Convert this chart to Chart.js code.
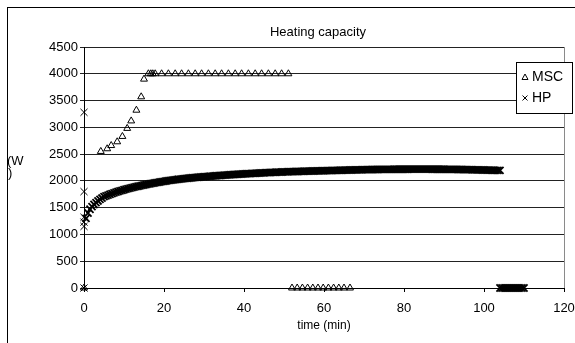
<!DOCTYPE html>
<html><head><meta charset="utf-8">
<script src="https://cdn.jsdelivr.net/npm/chart.js@4/dist/chart.umd.min.js"></script>
<style>html,body{margin:0;padding:0;background:#fff}canvas{display:block}</style>
</head><body>
<canvas id="c" width="575" height="343"></canvas>
<script>
const chartTitle = "Heating capacity";
const xTitle = "time (min)";
const yTitleLines = ["(W", ")"];
const seriesNames = ["MSC", "HP"];
const xTicks = [0, 20, 40, 60, 80, 100, 120];
const yTicks = [0, 500, 1000, 1500, 2000, 2500, 3000, 3500, 4000, 4500];

const mscTime = [0, 4.2, 5.8, 6.8, 8.3, 9.6, 10.8, 11.8, 13.1, 14.3, 15.0,
  16.1, 16.7, 17.2, 17.8,
  19.4, 21.1, 22.8, 24.4, 26.1, 27.8, 29.4, 31.1, 32.8, 34.4, 36.1, 37.8, 39.4, 41.1, 42.8, 44.4, 46.1, 47.8, 49.4, 51.1,
  52.0, 53.3, 54.6, 55.9, 57.2, 58.5, 59.8, 61.1, 62.4, 63.7, 65.0, 66.5];
const mscValue = [0, 2550, 2600, 2660, 2730, 2830, 2980, 3120, 3320, 3570, 3900,
  4000, 4000, 4000, 4000,
  4000, 4000, 4000, 4000, 4000, 4000, 4000, 4000, 4000, 4000, 4000, 4000, 4000, 4000, 4000, 4000, 4000, 4000, 4000, 4000,
  0, 0, 0, 0, 0, 0, 0, 0, 0, 0, 0, 0];

const hpTime = [0, 0, 0, 0, 0, 0,
  0.5, 1, 1.5, 2, 2.5, 3, 3.5, 4, 4.5, 5,
  5.5, 6, 6.5, 7, 7.5, 8, 8.5, 9, 9.5, 10,
  10.5, 11, 11.5, 12, 12.5, 13, 13.5, 14, 14.5, 15,
  15.5, 16, 16.5, 17, 17.5, 18, 18.5, 19, 19.5, 20,
  20.5, 21, 21.5, 22, 22.5, 23, 23.5, 24, 24.5, 25,
  25.5, 26, 26.5, 27, 27.5, 28, 28.5, 29, 29.5, 30,
  30.5, 31, 31.5, 32, 32.5, 33, 33.5, 34, 34.5, 35,
  35.5, 36, 36.5, 37, 37.5, 38, 38.5, 39, 39.5, 40,
  40.5, 41, 41.5, 42, 42.5, 43, 43.5, 44, 44.5, 45,
  45.5, 46, 46.5, 47, 47.5, 48, 48.5, 49, 49.5, 50,
  50.5, 51, 51.5, 52, 52.5, 53, 53.5, 54, 54.5, 55,
  55.5, 56, 56.5, 57, 57.5, 58, 58.5, 59, 59.5, 60,
  60.5, 61, 61.5, 62, 62.5, 63, 63.5, 64, 64.5, 65,
  65.5, 66, 66.5, 67, 67.5, 68, 68.5, 69, 69.5, 70,
  70.5, 71, 71.5, 72, 72.5, 73, 73.5, 74, 74.5, 75,
  75.5, 76, 76.5, 77, 77.5, 78, 78.5, 79, 79.5, 80,
  80.5, 81, 81.5, 82, 82.5, 83, 83.5, 84, 84.5, 85,
  85.5, 86, 86.5, 87, 87.5, 88, 88.5, 89, 89.5, 90,
  90.5, 91, 91.5, 92, 92.5, 93, 93.5, 94, 94.5, 95,
  95.5, 96, 96.5, 97, 97.5, 98, 98.5, 99, 99.5, 100,
  100.5, 101, 101.5, 102, 102.5, 103, 103.5, 104,
  104, 104.5, 105, 105.5, 106, 106.5, 107, 107.5, 108, 108.5, 109, 109.5, 110];
const hpValue = [0, 1150, 1230, 1320, 1800, 3280,
  1300, 1400, 1470, 1520, 1560, 1595, 1625, 1655, 1680, 1705,
  1720, 1735, 1750, 1763, 1776, 1789, 1801, 1813, 1824, 1835,
  1846, 1856, 1866, 1875, 1884, 1892, 1900, 1908, 1916, 1924,
  1932, 1939, 1946, 1953, 1960, 1967, 1973, 1980, 1986, 1992,
  1998, 2004, 2010, 2015, 2020, 2025, 2030, 2034, 2038, 2042,
  2046, 2050, 2054, 2058, 2062, 2065, 2068, 2072, 2075, 2078,
  2081, 2084, 2087, 2090, 2093, 2096, 2099, 2101, 2104, 2107,
  2109, 2112, 2114, 2117, 2119, 2122, 2124, 2126, 2128, 2131,
  2133, 2135, 2137, 2139, 2141, 2143, 2145, 2147, 2149, 2151,
  2153, 2155, 2157, 2158, 2160, 2162, 2163, 2165, 2166, 2168,
  2169, 2170, 2172, 2173, 2174, 2175, 2176, 2178, 2179, 2180,
  2181, 2182, 2183, 2184, 2185, 2186, 2187, 2188, 2189, 2190,
  2191, 2192, 2193, 2194, 2195, 2196, 2197, 2198, 2199, 2200,
  2201, 2202, 2203, 2204, 2205, 2206, 2207, 2207, 2208, 2209,
  2210, 2210, 2211, 2212, 2212, 2213, 2213, 2214, 2214, 2215,
  2215, 2216, 2216, 2216, 2217, 2217, 2217, 2218, 2218, 2218,
  2218, 2218, 2219, 2219, 2219, 2219, 2219, 2219, 2219, 2219,
  2219, 2219, 2219, 2218, 2218, 2218, 2218, 2217, 2217, 2217,
  2216, 2216, 2215, 2215, 2214, 2214, 2213, 2213, 2212, 2211,
  2210, 2210, 2209, 2208, 2207, 2206, 2205, 2205, 2204, 2203,
  2202, 2201, 2200, 2199, 2198, 2197, 2196, 2195,
  0, 0, 0, 0, 0, 0, 0, 0, 0, 0, 0, 0, 0];

const FONT = "'Liberation Sans', Arial, sans-serif";

const extras = {
  id: 'extras',
  afterDraw(chart) {
    const c = chart.ctx;
    const a = chart.chartArea;
    c.save();
    c.strokeStyle = '#8a8a8a'; c.lineWidth = 1;
    c.beginPath(); c.moveTo(Math.round(a.right) + 0.5, a.top); c.lineTo(Math.round(a.right) + 0.5, a.bottom); c.stroke();
    c.strokeStyle = '#000';
    c.strokeRect(7.5, 7.5, 700, 500);
    c.fillStyle = '#000';
    c.font = '13px ' + FONT;
    c.textAlign = 'center'; c.textBaseline = 'middle';
    c.fillText(chartTitle, 318, 32);
    c.font = '12px ' + FONT;
    c.fillText(xTitle, (a.left + a.right) / 2, 326);
    c.textAlign = 'left';
    c.font = '13px ' + FONT;
    c.fillText(yTitleLines[0], 7, 161);
    c.fillText(yTitleLines[1], 8, 173);
    // legend
    c.fillStyle = '#fff';
    c.fillRect(516, 62, 56, 51);
    c.strokeStyle = '#000';
    c.strokeRect(516.5, 62.5, 56, 51);
    c.lineWidth = 1;
    const tx = 525, ty = 77;
    c.beginPath(); c.moveTo(tx, ty - 3); c.lineTo(tx + 3, ty + 2.5); c.lineTo(tx - 3, ty + 2.5); c.closePath(); c.stroke();
    const xx = 525, xy = 98;
    c.beginPath(); c.moveTo(xx - 2.5, xy - 2.5); c.lineTo(xx + 2.5, xy + 2.5); c.moveTo(xx + 2.5, xy - 2.5); c.lineTo(xx - 2.5, xy + 2.5); c.stroke();
    c.fillStyle = '#000';
    c.font = '14px ' + FONT;
    c.textAlign = 'left'; c.textBaseline = 'middle';
    c.fillText(seriesNames[0], 532, 77);
    c.fillText(seriesNames[1], 532, 98);
    c.restore();
  }
};

new Chart(document.getElementById('c').getContext('2d'), {
  type: 'scatter',
  data: {
    datasets: [
      {
        label: seriesNames[0],
        data: mscTime.map((t, i) => ({ x: t, y: mscValue[i] })),
        pointStyle: 'triangle', pointRadius: 4, borderWidth: 1,
        borderColor: '#000', backgroundColor: 'rgba(0,0,0,0)', showLine: false
      },
      {
        label: seriesNames[1],
        data: hpTime.map((t, i) => ({ x: t, y: hpValue[i] })),
        pointStyle: 'crossRot', pointRadius: 5,
        pointBorderWidth: ctx => (hpTime[ctx.dataIndex] === 0 ? 1 : 1.8),
        borderColor: '#000', backgroundColor: '#000', showLine: false
      }
    ]
  },
  options: {
    responsive: false, animation: false, devicePixelRatio: 1,
    clip: false,
    layout: { padding: { left: 0, top: 47, right: 11, bottom: 0 } },
    plugins: { legend: { display: false }, tooltip: { enabled: false }, title: { display: false } },
    scales: {
      x: {
        type: 'linear', min: 0, max: 120,
        afterBuildTicks: s => { s.ticks = xTicks.map(v => ({ value: v })); },
        afterFit: s => { s.height = 55; s.paddingLeft = 0; s.paddingRight = 0; },
        ticks: { font: { family: FONT, size: 13 }, color: '#000', padding: 9, maxRotation: 0, callback: v => String(v) },
        grid: { drawOnChartArea: false, drawTicks: true, tickLength: 4, color: '#000' },
        border: { color: '#000' }
      },
      y: {
        type: 'linear', min: 0, max: 4500,
        afterBuildTicks: s => { s.ticks = yTicks.map(v => ({ value: v })); },
        afterFit: s => { s.width = 84; s.paddingTop = 0; s.paddingBottom = 0; },
        ticks: { font: { family: FONT, size: 13 }, color: '#000', padding: 2, callback: v => String(v) },
        grid: { color: '#222', tickLength: 4 },
        border: { color: '#000' }
      }
    }
  },
  plugins: [extras]
});
</script>
</body></html>
